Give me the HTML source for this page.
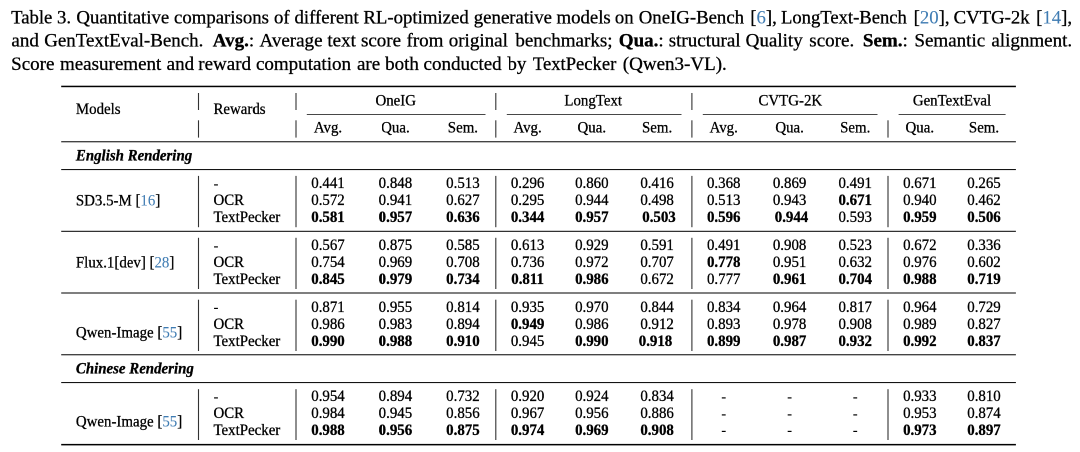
<!DOCTYPE html>
<html lang="en"><head><meta charset="utf-8"><title>Table 3</title>
<style>
html,body{margin:0;padding:0;background:#fff;}
body{width:1080px;height:452px;position:relative;overflow:hidden;}
#wrap{position:absolute;left:0;top:0;width:2160px;height:904px;transform:scale(0.5);transform-origin:0 0;will-change:transform;opacity:0.999;}
svg{display:block;font-family:"Liberation Serif","Times New Roman",serif;}
text{fill:#000;white-space:pre;stroke:#000;stroke-width:0.28;paint-order:stroke fill;}
.hy{stroke:none;}
.cap text{stroke-width:0.3;}
.cap .lk{stroke-width:0.08;}
.b{font-weight:bold;}
.bi{font-weight:bold;font-style:italic;}
.lk{fill:#3f7cb3;stroke:#3f7cb3;stroke-width:0.06;}
</style></head><body>
<div id="wrap"><svg width="2160" height="904" viewBox="0 0 1080 452">
<rect x="0" y="0" width="1080" height="452" fill="#fff"/>
<rect x="61.20" y="85.70" width="954.70" height="1.5" fill="#000"/>
<rect x="61.20" y="443.90" width="954.70" height="1.5" fill="#000"/>
<rect x="61.20" y="141.27" width="954.70" height="1.0" fill="#000"/>
<rect x="61.20" y="169.08" width="954.70" height="1.0" fill="#000"/>
<rect x="61.20" y="230.80" width="954.70" height="1.0" fill="#000"/>
<rect x="61.20" y="292.50" width="954.70" height="1.0" fill="#000"/>
<rect x="61.20" y="354.27" width="954.70" height="1.0" fill="#000"/>
<rect x="61.20" y="382.08" width="954.70" height="1.0" fill="#000"/>
<rect x="306.80" y="114.05" width="178.70" height="0.8" fill="#1a1a1a"/>
<rect x="506.80" y="114.05" width="174.70" height="0.8" fill="#1a1a1a"/>
<rect x="702.80" y="114.05" width="174.70" height="0.8" fill="#1a1a1a"/>
<rect x="898.60" y="114.05" width="107.00" height="0.8" fill="#1a1a1a"/>
<rect x="197.95" y="93.00" width="1.1" height="17.00" fill="#333"/>
<rect x="197.95" y="120.30" width="1.1" height="17.30" fill="#333"/>
<rect x="197.95" y="175.90" width="1.1" height="51.30" fill="#333"/>
<rect x="197.95" y="237.80" width="1.1" height="51.20" fill="#333"/>
<rect x="197.95" y="299.70" width="1.1" height="51.30" fill="#333"/>
<rect x="197.95" y="389.20" width="1.1" height="50.80" fill="#333"/>
<rect x="295.45" y="93.00" width="1.1" height="17.00" fill="#333"/>
<rect x="295.45" y="120.30" width="1.1" height="17.30" fill="#333"/>
<rect x="295.45" y="175.90" width="1.1" height="51.30" fill="#333"/>
<rect x="295.45" y="237.80" width="1.1" height="51.20" fill="#333"/>
<rect x="295.45" y="299.70" width="1.1" height="51.30" fill="#333"/>
<rect x="295.45" y="389.20" width="1.1" height="50.80" fill="#333"/>
<rect x="495.25" y="93.00" width="1.1" height="17.00" fill="#333"/>
<rect x="495.25" y="120.30" width="1.1" height="17.30" fill="#333"/>
<rect x="495.25" y="175.90" width="1.1" height="51.30" fill="#333"/>
<rect x="495.25" y="237.80" width="1.1" height="51.20" fill="#333"/>
<rect x="495.25" y="299.70" width="1.1" height="51.30" fill="#333"/>
<rect x="495.25" y="389.20" width="1.1" height="50.80" fill="#333"/>
<rect x="691.35" y="93.00" width="1.1" height="17.00" fill="#333"/>
<rect x="691.35" y="120.30" width="1.1" height="17.30" fill="#333"/>
<rect x="691.35" y="175.90" width="1.1" height="51.30" fill="#333"/>
<rect x="691.35" y="237.80" width="1.1" height="51.20" fill="#333"/>
<rect x="691.35" y="299.70" width="1.1" height="51.30" fill="#333"/>
<rect x="691.35" y="389.20" width="1.1" height="50.80" fill="#333"/>
<rect x="887.45" y="120.30" width="1.1" height="17.30" fill="#333"/>
<rect x="887.45" y="175.90" width="1.1" height="51.30" fill="#333"/>
<rect x="887.45" y="237.80" width="1.1" height="51.20" fill="#333"/>
<rect x="887.45" y="299.70" width="1.1" height="51.30" fill="#333"/>
<rect x="887.45" y="389.20" width="1.1" height="50.80" fill="#333"/>
<g font-size="14.9">
<text transform="translate(75.90 114.00) scale(1 1.025)">Models</text>
<text transform="translate(213.50 114.00) scale(1 1.025)">Rewards</text>
<text transform="translate(395.70 105.30) scale(1 1.025)" text-anchor="middle">OneIG</text>
<text transform="translate(593.20 105.30) scale(1 1.025)" text-anchor="middle">LongText</text>
<text transform="translate(790.30 105.30) scale(1 1.025)" text-anchor="middle">CVTG-2K</text>
<text transform="translate(952.00 105.30) scale(1 1.025)" text-anchor="middle">GenTextEval</text>
<text transform="translate(328.00 132.70) scale(1 1.025)" text-anchor="middle">Avg.</text>
<text transform="translate(395.40 132.70) scale(1 1.025)" text-anchor="middle">Qua.</text>
<text transform="translate(462.90 132.70) scale(1 1.025)" text-anchor="middle">Sem.</text>
<text transform="translate(527.60 132.70) scale(1 1.025)" text-anchor="middle">Avg.</text>
<text transform="translate(591.80 132.70) scale(1 1.025)" text-anchor="middle">Qua.</text>
<text transform="translate(657.10 132.70) scale(1 1.025)" text-anchor="middle">Sem.</text>
<text transform="translate(723.70 132.70) scale(1 1.025)" text-anchor="middle">Avg.</text>
<text transform="translate(789.60 132.70) scale(1 1.025)" text-anchor="middle">Qua.</text>
<text transform="translate(855.20 132.70) scale(1 1.025)" text-anchor="middle">Sem.</text>
<text transform="translate(919.80 132.70) scale(1 1.025)" text-anchor="middle">Qua.</text>
<text transform="translate(984.00 132.70) scale(1 1.025)" text-anchor="middle">Sem.</text>
<text transform="translate(75.90 160.60) scale(1 1.025)" class="bi">English Rendering</text>
<text transform="translate(75.90 373.50) scale(1 1.025)" class="bi">Chinese Rendering</text>
<text transform="translate(75.90 205.55) scale(1 1.025)">SD3.5-M [<tspan class="lk">16</tspan>]</text>
<text transform="translate(213.50 188.35) scale(1 1.025)" class="hy">-</text>
<text transform="translate(328.00 188.10) scale(1 1.055)" text-anchor="middle">0.441</text>
<text transform="translate(395.40 188.10) scale(1 1.055)" text-anchor="middle">0.848</text>
<text transform="translate(462.90 188.10) scale(1 1.055)" text-anchor="middle">0.513</text>
<text transform="translate(527.60 188.10) scale(1 1.055)" text-anchor="middle">0.296</text>
<text transform="translate(591.80 188.10) scale(1 1.055)" text-anchor="middle">0.860</text>
<text transform="translate(657.10 188.10) scale(1 1.055)" text-anchor="middle">0.416</text>
<text transform="translate(723.70 188.10) scale(1 1.055)" text-anchor="middle">0.368</text>
<text transform="translate(789.60 188.10) scale(1 1.055)" text-anchor="middle">0.869</text>
<text transform="translate(855.20 188.10) scale(1 1.055)" text-anchor="middle">0.491</text>
<text transform="translate(919.80 188.10) scale(1 1.055)" text-anchor="middle">0.671</text>
<text transform="translate(984.00 188.10) scale(1 1.055)" text-anchor="middle">0.265</text>
<text transform="translate(213.50 205.05) scale(1 1.025)">OCR</text>
<text transform="translate(328.00 205.05) scale(1 1.055)" text-anchor="middle">0.572</text>
<text transform="translate(395.40 205.05) scale(1 1.055)" text-anchor="middle">0.941</text>
<text transform="translate(462.90 205.05) scale(1 1.055)" text-anchor="middle">0.627</text>
<text transform="translate(527.60 205.05) scale(1 1.055)" text-anchor="middle">0.295</text>
<text transform="translate(591.80 205.05) scale(1 1.055)" text-anchor="middle">0.944</text>
<text transform="translate(657.10 205.05) scale(1 1.055)" text-anchor="middle">0.498</text>
<text transform="translate(723.70 205.05) scale(1 1.055)" text-anchor="middle">0.513</text>
<text transform="translate(789.60 205.05) scale(1 1.055)" text-anchor="middle">0.943</text>
<text transform="translate(855.20 205.05) scale(1 1.055)" text-anchor="middle" class="b">0.671</text>
<text transform="translate(919.80 205.05) scale(1 1.055)" text-anchor="middle">0.940</text>
<text transform="translate(984.00 205.05) scale(1 1.055)" text-anchor="middle">0.462</text>
<text transform="translate(213.50 222.00) scale(1 1.025)">TextPecker</text>
<text transform="translate(328.00 222.00) scale(1 1.055)" text-anchor="middle" class="b">0.581</text>
<text transform="translate(395.40 222.00) scale(1 1.055)" text-anchor="middle" class="b">0.957</text>
<text transform="translate(462.90 222.00) scale(1 1.055)" text-anchor="middle" class="b">0.636</text>
<text transform="translate(527.60 222.00) scale(1 1.055)" text-anchor="middle" class="b">0.344</text>
<text transform="translate(591.80 222.00) scale(1 1.055)" text-anchor="middle" class="b">0.957</text>
<text transform="translate(659.00 222.00) scale(1 1.055)" text-anchor="middle" class="b">0.503</text>
<text transform="translate(723.70 222.00) scale(1 1.055)" text-anchor="middle" class="b">0.596</text>
<text transform="translate(791.50 222.00) scale(1 1.055)" text-anchor="middle" class="b">0.944</text>
<text transform="translate(855.20 222.00) scale(1 1.055)" text-anchor="middle">0.593</text>
<text transform="translate(919.80 222.00) scale(1 1.055)" text-anchor="middle" class="b">0.959</text>
<text transform="translate(984.00 222.00) scale(1 1.055)" text-anchor="middle" class="b">0.506</text>
<text transform="translate(75.90 267.45) scale(1 1.025)">Flux.1[dev] [<tspan class="lk">28</tspan>]</text>
<text transform="translate(213.50 250.25) scale(1 1.025)" class="hy">-</text>
<text transform="translate(328.00 250.00) scale(1 1.055)" text-anchor="middle">0.567</text>
<text transform="translate(395.40 250.00) scale(1 1.055)" text-anchor="middle">0.875</text>
<text transform="translate(462.90 250.00) scale(1 1.055)" text-anchor="middle">0.585</text>
<text transform="translate(527.60 250.00) scale(1 1.055)" text-anchor="middle">0.613</text>
<text transform="translate(591.80 250.00) scale(1 1.055)" text-anchor="middle">0.929</text>
<text transform="translate(657.10 250.00) scale(1 1.055)" text-anchor="middle">0.591</text>
<text transform="translate(723.70 250.00) scale(1 1.055)" text-anchor="middle">0.491</text>
<text transform="translate(789.60 250.00) scale(1 1.055)" text-anchor="middle">0.908</text>
<text transform="translate(855.20 250.00) scale(1 1.055)" text-anchor="middle">0.523</text>
<text transform="translate(919.80 250.00) scale(1 1.055)" text-anchor="middle">0.672</text>
<text transform="translate(984.00 250.00) scale(1 1.055)" text-anchor="middle">0.336</text>
<text transform="translate(213.50 266.95) scale(1 1.025)">OCR</text>
<text transform="translate(328.00 266.95) scale(1 1.055)" text-anchor="middle">0.754</text>
<text transform="translate(395.40 266.95) scale(1 1.055)" text-anchor="middle">0.969</text>
<text transform="translate(462.90 266.95) scale(1 1.055)" text-anchor="middle">0.708</text>
<text transform="translate(527.60 266.95) scale(1 1.055)" text-anchor="middle">0.736</text>
<text transform="translate(591.80 266.95) scale(1 1.055)" text-anchor="middle">0.972</text>
<text transform="translate(657.10 266.95) scale(1 1.055)" text-anchor="middle">0.707</text>
<text transform="translate(723.70 266.95) scale(1 1.055)" text-anchor="middle" class="b">0.778</text>
<text transform="translate(789.60 266.95) scale(1 1.055)" text-anchor="middle">0.951</text>
<text transform="translate(855.20 266.95) scale(1 1.055)" text-anchor="middle">0.632</text>
<text transform="translate(919.80 266.95) scale(1 1.055)" text-anchor="middle">0.976</text>
<text transform="translate(984.00 266.95) scale(1 1.055)" text-anchor="middle">0.602</text>
<text transform="translate(213.50 283.90) scale(1 1.025)">TextPecker</text>
<text transform="translate(328.00 283.90) scale(1 1.055)" text-anchor="middle" class="b">0.845</text>
<text transform="translate(395.40 283.90) scale(1 1.055)" text-anchor="middle" class="b">0.979</text>
<text transform="translate(462.90 283.90) scale(1 1.055)" text-anchor="middle" class="b">0.734</text>
<text transform="translate(527.60 283.90) scale(1 1.055)" text-anchor="middle" class="b">0.811</text>
<text transform="translate(591.80 283.90) scale(1 1.055)" text-anchor="middle" class="b">0.986</text>
<text transform="translate(657.10 283.90) scale(1 1.055)" text-anchor="middle">0.672</text>
<text transform="translate(723.70 283.90) scale(1 1.055)" text-anchor="middle">0.777</text>
<text transform="translate(789.60 283.90) scale(1 1.055)" text-anchor="middle" class="b">0.961</text>
<text transform="translate(855.20 283.90) scale(1 1.055)" text-anchor="middle" class="b">0.704</text>
<text transform="translate(919.80 283.90) scale(1 1.055)" text-anchor="middle" class="b">0.988</text>
<text transform="translate(984.00 283.90) scale(1 1.055)" text-anchor="middle" class="b">0.719</text>
<text transform="translate(75.90 337.25) scale(1 1.025)">Qwen-Image [<tspan class="lk">55</tspan>]</text>
<text transform="translate(213.50 312.15) scale(1 1.025)" class="hy">-</text>
<text transform="translate(328.00 311.90) scale(1 1.055)" text-anchor="middle">0.871</text>
<text transform="translate(395.40 311.90) scale(1 1.055)" text-anchor="middle">0.955</text>
<text transform="translate(462.90 311.90) scale(1 1.055)" text-anchor="middle">0.814</text>
<text transform="translate(527.60 311.90) scale(1 1.055)" text-anchor="middle">0.935</text>
<text transform="translate(591.80 311.90) scale(1 1.055)" text-anchor="middle">0.970</text>
<text transform="translate(657.10 311.90) scale(1 1.055)" text-anchor="middle">0.844</text>
<text transform="translate(723.70 311.90) scale(1 1.055)" text-anchor="middle">0.834</text>
<text transform="translate(789.60 311.90) scale(1 1.055)" text-anchor="middle">0.964</text>
<text transform="translate(855.20 311.90) scale(1 1.055)" text-anchor="middle">0.817</text>
<text transform="translate(919.80 311.90) scale(1 1.055)" text-anchor="middle">0.964</text>
<text transform="translate(984.00 311.90) scale(1 1.055)" text-anchor="middle">0.729</text>
<text transform="translate(213.50 328.85) scale(1 1.025)">OCR</text>
<text transform="translate(328.00 328.85) scale(1 1.055)" text-anchor="middle">0.986</text>
<text transform="translate(395.40 328.85) scale(1 1.055)" text-anchor="middle">0.983</text>
<text transform="translate(462.90 328.85) scale(1 1.055)" text-anchor="middle">0.894</text>
<text transform="translate(527.60 328.85) scale(1 1.055)" text-anchor="middle" class="b">0.949</text>
<text transform="translate(591.80 328.85) scale(1 1.055)" text-anchor="middle">0.986</text>
<text transform="translate(657.10 328.85) scale(1 1.055)" text-anchor="middle">0.912</text>
<text transform="translate(723.70 328.85) scale(1 1.055)" text-anchor="middle">0.893</text>
<text transform="translate(789.60 328.85) scale(1 1.055)" text-anchor="middle">0.978</text>
<text transform="translate(855.20 328.85) scale(1 1.055)" text-anchor="middle">0.908</text>
<text transform="translate(919.80 328.85) scale(1 1.055)" text-anchor="middle">0.989</text>
<text transform="translate(984.00 328.85) scale(1 1.055)" text-anchor="middle">0.827</text>
<text transform="translate(213.50 345.80) scale(1 1.025)">TextPecker</text>
<text transform="translate(328.00 345.80) scale(1 1.055)" text-anchor="middle" class="b">0.990</text>
<text transform="translate(395.40 345.80) scale(1 1.055)" text-anchor="middle" class="b">0.988</text>
<text transform="translate(462.90 345.80) scale(1 1.055)" text-anchor="middle" class="b">0.910</text>
<text transform="translate(527.60 345.80) scale(1 1.055)" text-anchor="middle">0.945</text>
<text transform="translate(591.80 345.80) scale(1 1.055)" text-anchor="middle" class="b">0.990</text>
<text transform="translate(655.50 345.80) scale(1 1.055)" text-anchor="middle" class="b">0.918</text>
<text transform="translate(723.70 345.80) scale(1 1.055)" text-anchor="middle" class="b">0.899</text>
<text transform="translate(789.60 345.80) scale(1 1.055)" text-anchor="middle" class="b">0.987</text>
<text transform="translate(855.20 345.80) scale(1 1.055)" text-anchor="middle" class="b">0.932</text>
<text transform="translate(919.80 345.80) scale(1 1.055)" text-anchor="middle" class="b">0.992</text>
<text transform="translate(984.00 345.80) scale(1 1.055)" text-anchor="middle" class="b">0.837</text>
<text transform="translate(75.90 426.40) scale(1 1.025)">Qwen-Image [<tspan class="lk">55</tspan>]</text>
<text transform="translate(213.50 401.30) scale(1 1.025)" class="hy">-</text>
<text transform="translate(328.00 401.05) scale(1 1.055)" text-anchor="middle">0.954</text>
<text transform="translate(395.40 401.05) scale(1 1.055)" text-anchor="middle">0.894</text>
<text transform="translate(462.90 401.05) scale(1 1.055)" text-anchor="middle">0.732</text>
<text transform="translate(527.60 401.05) scale(1 1.055)" text-anchor="middle">0.920</text>
<text transform="translate(591.80 401.05) scale(1 1.055)" text-anchor="middle">0.924</text>
<text transform="translate(657.10 401.05) scale(1 1.055)" text-anchor="middle">0.834</text>
<text transform="translate(723.70 401.30) scale(1 1.025)" text-anchor="middle" class="hy">-</text>
<text transform="translate(789.60 401.30) scale(1 1.025)" text-anchor="middle" class="hy">-</text>
<text transform="translate(855.20 401.30) scale(1 1.025)" text-anchor="middle" class="hy">-</text>
<text transform="translate(919.80 401.05) scale(1 1.055)" text-anchor="middle">0.933</text>
<text transform="translate(984.00 401.05) scale(1 1.055)" text-anchor="middle">0.810</text>
<text transform="translate(213.50 418.00) scale(1 1.025)">OCR</text>
<text transform="translate(328.00 418.00) scale(1 1.055)" text-anchor="middle">0.984</text>
<text transform="translate(395.40 418.00) scale(1 1.055)" text-anchor="middle">0.945</text>
<text transform="translate(462.90 418.00) scale(1 1.055)" text-anchor="middle">0.856</text>
<text transform="translate(527.60 418.00) scale(1 1.055)" text-anchor="middle">0.967</text>
<text transform="translate(591.80 418.00) scale(1 1.055)" text-anchor="middle">0.956</text>
<text transform="translate(657.10 418.00) scale(1 1.055)" text-anchor="middle">0.886</text>
<text transform="translate(723.70 418.25) scale(1 1.025)" text-anchor="middle" class="hy">-</text>
<text transform="translate(789.60 418.25) scale(1 1.025)" text-anchor="middle" class="hy">-</text>
<text transform="translate(855.20 418.25) scale(1 1.025)" text-anchor="middle" class="hy">-</text>
<text transform="translate(919.80 418.00) scale(1 1.055)" text-anchor="middle">0.953</text>
<text transform="translate(984.00 418.00) scale(1 1.055)" text-anchor="middle">0.874</text>
<text transform="translate(213.50 434.95) scale(1 1.025)">TextPecker</text>
<text transform="translate(328.00 434.95) scale(1 1.055)" text-anchor="middle" class="b">0.988</text>
<text transform="translate(395.40 434.95) scale(1 1.055)" text-anchor="middle" class="b">0.956</text>
<text transform="translate(462.90 434.95) scale(1 1.055)" text-anchor="middle" class="b">0.875</text>
<text transform="translate(527.60 434.95) scale(1 1.055)" text-anchor="middle" class="b">0.974</text>
<text transform="translate(591.80 434.95) scale(1 1.055)" text-anchor="middle" class="b">0.969</text>
<text transform="translate(657.10 434.95) scale(1 1.055)" text-anchor="middle" class="b">0.908</text>
<text transform="translate(723.70 435.20) scale(1 1.025)" text-anchor="middle" class="hy">-</text>
<text transform="translate(789.60 435.20) scale(1 1.025)" text-anchor="middle" class="hy">-</text>
<text transform="translate(855.20 435.20) scale(1 1.025)" text-anchor="middle" class="hy">-</text>
<text transform="translate(919.80 434.95) scale(1 1.055)" text-anchor="middle" class="b">0.973</text>
<text transform="translate(984.00 434.95) scale(1 1.055)" text-anchor="middle" class="b">0.897</text>
</g>
<g font-size="19.15" class="cap">
<text transform="translate(11.10 23.40) scale(0.975 1)" class="w" id="w0_0">Table</text>
<text transform="translate(57.00 23.40) scale(0.981 1)" class="w" id="w0_1">3.</text>
<text transform="translate(76.39 23.40) scale(0.981 1)" class="w" id="w0_2">Quantitative</text>
<text transform="translate(174.01 23.40) scale(0.981 1)" class="w" id="w0_3">comparisons</text>
<text transform="translate(273.95 23.40) scale(0.981 1)" class="w" id="w0_4">of</text>
<text transform="translate(294.47 23.40) scale(0.981 1)" class="w" id="w0_5">different</text>
<text transform="translate(363.40 23.40) scale(0.981 1)" class="w" id="w0_6">RL-optimized</text>
<text transform="translate(473.77 23.40) scale(0.981 1)" class="w" id="w0_7">generative</text>
<text transform="translate(556.50 23.40) scale(0.981 1)" class="w" id="w0_8">models</text>
<text transform="translate(614.87 23.40) scale(0.981 1)" class="w" id="w0_9">on</text>
<text transform="translate(638.75 23.40) scale(0.981 1)" class="w" id="w0_10">OneIG-Bench</text>
<text transform="translate(750.25 23.40) scale(0.981 1)" class="w" id="w0_11">[<tspan class="lk">6</tspan>],</text>
<text transform="translate(781.02 23.40) scale(0.972 1)" class="w" id="w0_12">LongText-Bench</text>
<text transform="translate(913.62 23.40) scale(0.981 1)" class="w" id="w0_13">[<tspan class="lk">20</tspan>],</text>
<text transform="translate(953.58 23.40) scale(0.981 1)" class="w" id="w0_14">CVTG-2k</text>
<text transform="translate(1036.12 23.40) scale(0.981 1)" class="w" id="w0_15">[<tspan class="lk">14</tspan>],</text>
<text transform="translate(11.41 46.40) scale(0.994 1)" class="w" id="w1_0">and</text>
<text transform="translate(44.19 46.40) scale(0.99 1)" class="w" id="w1_1">GenTextEval-Bench.</text>
<text transform="translate(212.75 46.40) scale(0.994 1)" class="w" id="w1_2"><tspan class="b">Avg.</tspan>:</text>
<text transform="translate(259.50 46.40) scale(0.994 1)" class="w" id="w1_3">Average</text>
<text transform="translate(327.37 46.40) scale(0.994 1)" class="w" id="w1_4">text</text>
<text transform="translate(360.94 46.40) scale(0.994 1)" class="w" id="w1_5">score</text>
<text transform="translate(406.50 46.40) scale(0.994 1)" class="w" id="w1_6">from</text>
<text transform="translate(448.70 46.40) scale(0.994 1)" class="w" id="w1_7">original</text>
<text transform="translate(515.33 46.40) scale(0.994 1)" class="w" id="w1_8">benchmarks;</text>
<text transform="translate(618.79 46.40) scale(0.994 1)" class="w" id="w1_9"><tspan class="b">Qua.</tspan>:</text>
<text transform="translate(668.72 46.40) scale(0.994 1)" class="w" id="w1_10">structural</text>
<text transform="translate(745.66 46.40) scale(0.994 1)" class="w" id="w1_11">Quality</text>
<text transform="translate(809.31 46.40) scale(0.994 1)" class="w" id="w1_12">score.</text>
<text transform="translate(862.87 46.40) scale(0.994 1)" class="w" id="w1_13"><tspan class="b">Sem.</tspan>:</text>
<text transform="translate(914.40 46.40) scale(0.994 1)" class="w" id="w1_14">Semantic</text>
<text transform="translate(991.34 46.40) scale(0.994 1)" class="w" id="w1_15">alignment.</text>
<text transform="translate(11.12 69.80) scale(0.993 1)" class="w" id="w2_0">Score</text>
<text transform="translate(59.95 69.80) scale(0.993 1)" class="w" id="w2_1">measurement</text>
<text transform="translate(166.67 69.80) scale(0.993 1)" class="w" id="w2_2">and</text>
<text transform="translate(198.28 69.80) scale(0.993 1)" class="w" id="w2_3">reward</text>
<text transform="translate(255.95 69.80) scale(0.993 1)" class="w" id="w2_4">computation</text>
<text transform="translate(356.96 69.80) scale(0.993 1)" class="w" id="w2_5">are</text>
<text transform="translate(385.11 69.80) scale(0.993 1)" class="w" id="w2_6">both</text>
<text transform="translate(423.56 69.80) scale(0.993 1)" class="w" id="w2_7">conducted</text>
<text transform="translate(507.42 69.80) scale(0.993 1)" class="w" id="w2_8">by</text>
<text transform="translate(532.90 69.80) scale(0.972 1)" class="w" id="w2_9">TextPecker</text>
<text transform="translate(622.80 69.80) scale(0.993 1)" class="w" id="w2_10">(Qwen3-VL).</text>
</g>
</svg></div>
</body></html>
